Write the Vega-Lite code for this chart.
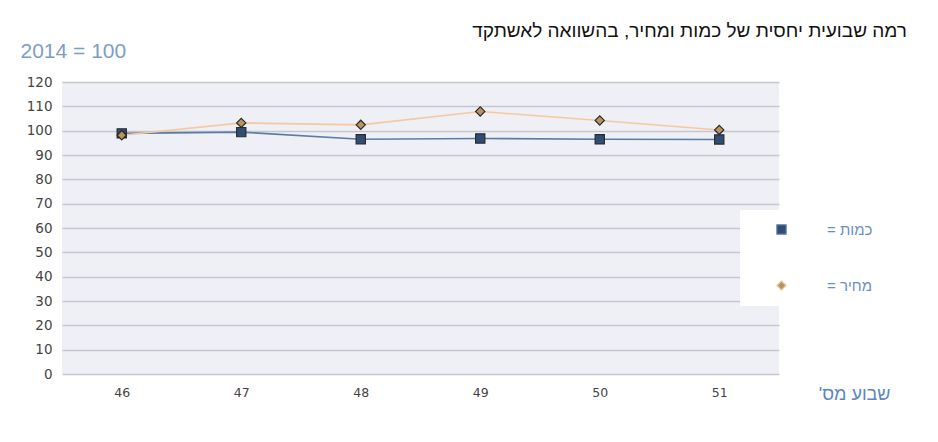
{
  "$schema": "https://vega.github.io/schema/vega-lite/v6.json",
  "autosize": {"type": "none"},
  "width": 717,
  "height": 292,
  "padding": {"left": 62, "top": 82, "right": 159, "bottom": 68},
  "background": "white",
  "title": {
    "text": "רמה שבועית יחסית של כמות ומחיר, בהשוואה לאשתקד",
    "anchor": "end",
    "frame": "group",
    "dx": 128,
    "dy": 13,
    "offset": 12,
    "fontSize": 19,
    "fontWeight": "normal",
    "font": "Liberation Sans",
    "color": "#111111"
  },
  "data": {
    "values": [
      {"week": 46, "series": "כמות =", "value": 98.9},
      {"week": 47, "series": "כמות =", "value": 99.4},
      {"week": 48, "series": "כמות =", "value": 96.5},
      {"week": 49, "series": "כמות =", "value": 96.8},
      {"week": 50, "series": "כמות =", "value": 96.5},
      {"week": 51, "series": "כמות =", "value": 96.4},
      {"week": 46, "series": "מחיר =", "value": 98.1},
      {"week": 47, "series": "מחיר =", "value": 103.2},
      {"week": 48, "series": "מחיר =", "value": 102.4},
      {"week": 49, "series": "מחיר =", "value": 107.9},
      {"week": 50, "series": "מחיר =", "value": 104.2},
      {"week": 51, "series": "מחיר =", "value": 100.3}
    ]
  },
  "encoding": {
    "x": {
      "field": "week",
      "type": "ordinal",
      "scale": {"type": "point", "padding": 0.5},
      "axis": {
        "title": "שבוע מס'\u200F",
        "titleFontSize": 18,
        "titleFontWeight": "normal",
        "titleColor": "#5a86c2",
        "titleFont": "Liberation Sans",
        "titleAlign": "right",
        "titleAnchor": null,
        "titleX": 828,
        "titleY": 25,
        "titleBaseline": "alphabetic",
        "labelAngle": 0,
        "labelFontSize": 12.5,
        "labelColor": "#444444",
        "labelFont": "DejaVu Sans",
        "labelPadding": 12,
        "domain": false,
        "ticks": false,
        "grid": false
      }
    },
    "y": {
      "field": "value",
      "type": "quantitative",
      "scale": {"domain": [0, 120], "nice": false, "zero": true},
      "axis": {
        "values": [0, 10, 20, 30, 40, 50, 60, 70, 80, 90, 100, 110, 120],
        "title": "2014 = 100",
        "titleAngle": 0,
        "titleAlign": "left",
        "titleBaseline": "alphabetic",
        "titleX": -42,
        "titleY": -25,
        "titleFontSize": 21,
        "titleFontWeight": "normal",
        "titleColor": "#7d9dc8",
        "titleFont": "Liberation Sans",
        "labelFontSize": 13.5,
        "labelColor": "#444444",
        "labelFont": "DejaVu Sans",
        "labelPadding": 10,
        "domain": false,
        "ticks": false,
        "grid": true,
        "gridColor": "#c6c6cf",
        "gridWidth": 1.5
      }
    }
  },
  "layer": [
    {
      "mark": {"type": "line", "strokeWidth": 1.6},
      "encoding": {
        "color": {
          "field": "series",
          "type": "nominal",
          "scale": {"domain": ["כמות =", "מחיר ="], "range": ["#5b7ca6", "#f4c9a2"]},
          "legend": {
            "title": null,
            "orient": "none",
            "legendX": 678,
            "legendY": 128,
            "fillColor": "white",
            "padding": 12,
            "rowPadding": 40,
            "labelFontSize": 15,
            "labelColor": "#6b8fc5",
            "labelFont": "Liberation Sans",
            "labelExpr": "datum.label + '\u200F'",
            "symbolOffset": 22,
            "labelOffset": 38,
            "symbolSize": 85,
            "symbolStrokeColor": "#2a2a2a",
            "symbolStrokeWidth": 1.2
          }
        }
      }
    },
    {
      "mark": {"type": "point", "filled": true, "size": 85, "opacity": 1, "strokeWidth": 1.2},
      "encoding": {
        "fill": {
          "field": "series",
          "type": "nominal",
          "scale": {"domain": ["כמות =", "מחיר ="], "range": ["#2f4d75", "#b8955f"]},
          "legend": null
        },
        "shape": {
          "field": "series",
          "type": "nominal",
          "scale": {"domain": ["כמות =", "מחיר ="], "range": ["square", "diamond"]},
          "legend": null
        },
        "stroke": {"value": "#2a2a2a"}
      }
    }
  ],
  "config": {
    "view": {"fill": "#efeff6", "stroke": null}
  }
}
